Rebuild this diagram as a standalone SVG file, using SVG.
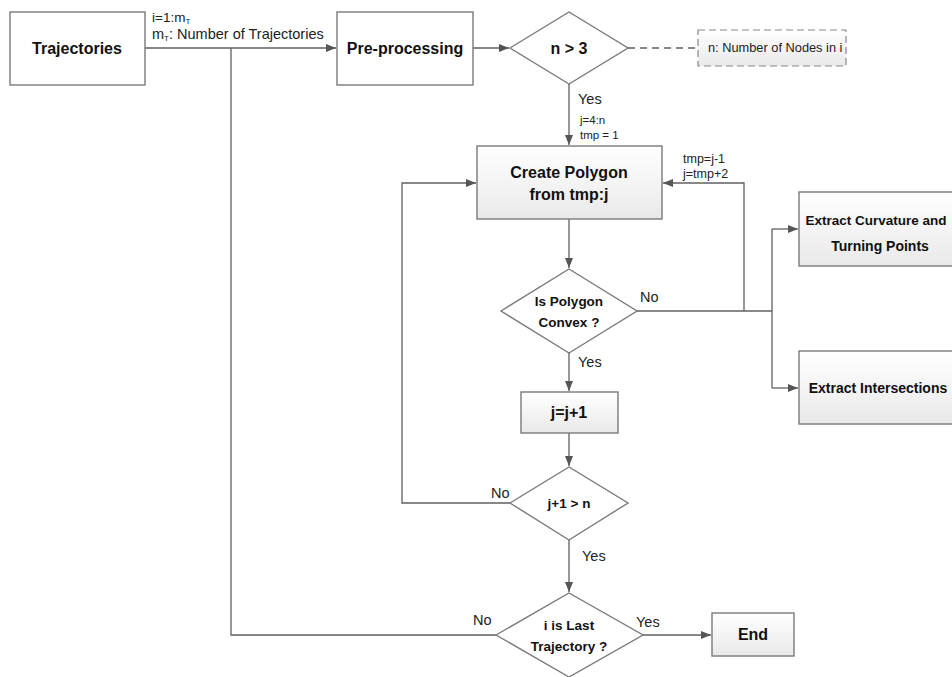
<svg xmlns="http://www.w3.org/2000/svg" width="952" height="677" viewBox="0 0 952 677">
<defs>
<linearGradient id="g" x1="0" y1="0" x2="0" y2="1"><stop offset="0" stop-color="#ffffff"/><stop offset="1" stop-color="#e9e9e9"/></linearGradient>
<marker id="a" viewBox="0 0 10 10" refX="10" refY="5" markerWidth="10" markerHeight="10" markerUnits="userSpaceOnUse" orient="auto"><path d="M0,1 L10,5 L0,9 z" fill="#555"/></marker>
</defs>
<style>
.n{fill:#fff;stroke:#7a7a7a;stroke-width:1.4}
.gn{fill:url(#g);stroke:#7a7a7a;stroke-width:1.4}
.c{fill:none;stroke:#606060;stroke-width:1.3}
.b{font-family:"Liberation Sans",Arial,sans-serif;font-weight:bold;fill:#111;text-anchor:middle}
.t{font-family:"Liberation Sans",Arial,sans-serif;fill:#222}
</style>
<rect width="952" height="677" fill="#fff"/>
<g id="connectors">
<path class="c" d="M145,48 H336" marker-end="url(#a)"/>
<path class="c" d="M231,48 V635 H496"/>
<path class="c" d="M473,48 H509" marker-end="url(#a)"/>
<path class="c" d="M628,48 H698" stroke-dasharray="7,5"/>
<path class="c" d="M569,84 V145" marker-end="url(#a)"/>
<path class="c" d="M569,219 V268" marker-end="url(#a)"/>
<path class="c" d="M637,311 H772"/>
<path class="c" d="M744,311 V183 H663" marker-end="url(#a)"/>
<path class="c" d="M772,229 V388"/>
<path class="c" d="M772,229 H798" marker-end="url(#a)"/>
<path class="c" d="M772,388 H798" marker-end="url(#a)"/>
<path class="c" d="M569,353 V391" marker-end="url(#a)"/>
<path class="c" d="M569,433 V466" marker-end="url(#a)"/>
<path class="c" d="M510,503 H402 V183 H476" marker-end="url(#a)"/>
<path class="c" d="M569,540 V592" marker-end="url(#a)"/>
<path class="c" d="M643,635 H711" marker-end="url(#a)"/>
<text class="t" x="152" y="22" font-size="13.5">i=1:m<tspan font-size="8" dy="2">T</tspan></text>
<text class="t" x="152" y="39" font-size="14.5">m<tspan font-size="8" dy="2">T</tspan><tspan dy="-2">: Number of Trajectories</tspan></text>
<text class="t" x="578" y="104" font-size="14.5">Yes</text>
<text class="t" x="580" y="124" font-size="11.5">j=4:n</text>
<text class="t" x="580" y="139" font-size="11.5">tmp = 1</text>
<text class="t" x="683" y="163" font-size="12.5">tmp=j-1</text>
<text class="t" x="683" y="178" font-size="12.5">j=tmp+2</text>
<text class="t" x="640" y="302" font-size="14.5">No</text>
<text class="t" x="578" y="367" font-size="14.5">Yes</text>
<text class="t" x="491" y="498" font-size="14.5">No</text>
<text class="t" x="582" y="561" font-size="14.5">Yes</text>
<text class="t" x="473" y="625" font-size="14.5">No</text>
<text class="t" x="636" y="627" font-size="14.5">Yes</text>
</g>
<g id="trajectories"><rect class="n" x="10" y="12" width="135" height="73"/><text class="b" x="77" y="54" font-size="16">Trajectories</text></g>
<g id="preprocessing"><rect class="n" x="337" y="12" width="136" height="73"/><text class="b" x="405" y="54" font-size="16">Pre-processing</text></g>
<g id="n3"><polygon class="n" points="510,48 569,12 628,48 569,84"/><text class="b" x="569" y="54" font-size="16">n &gt; 3</text></g>
<g id="note"><rect x="698" y="30" width="148" height="36" fill="url(#g)" stroke="#888" stroke-width="1.2" stroke-dasharray="7,4"/><text class="t" x="708" y="52" font-size="12.8">n: Number of Nodes in i</text></g>
<g id="create"><rect class="gn" x="477" y="146" width="185" height="73"/><text class="b" x="569" y="178" font-size="16">Create Polygon</text><text class="b" x="569" y="200" font-size="16">from tmp:j</text></g>
<g id="convex"><polygon class="n" points="501,311 569,269 637,311 569,353"/><text class="b" x="569" y="306" font-size="13.5">Is Polygon</text><text class="b" x="569" y="327" font-size="13.5">Convex ?</text></g>
<g id="curvature"><rect class="gn" x="799" y="192" width="166" height="74"/><text class="b" x="876" y="225" font-size="13.5">Extract Curvature and</text><text class="b" x="880" y="251" font-size="14">Turning Points</text></g>
<g id="intersections"><rect class="gn" x="799" y="351" width="166" height="73"/><text class="b" x="878" y="393" font-size="14">Extract Intersections</text></g>
<g id="jinc"><rect class="gn" x="521" y="392" width="97" height="41"/><text class="b" x="569" y="418" font-size="16">j=j+1</text></g>
<g id="jn"><polygon class="n" points="510,503 569,467 628,503 569,540"/><text class="b" x="569" y="508" font-size="13.5">j+1 &gt; n</text></g>
<g id="last"><polygon class="n" points="496,635 569,593 643,635 569,677"/><text class="b" x="569" y="630" font-size="13.5">i is Last</text><text class="b" x="569" y="651" font-size="13.5">Trajectory ?</text></g>
<g id="end"><rect class="gn" x="712" y="613" width="82" height="43"/><text class="b" x="753" y="640" font-size="16">End</text></g>
</svg>
